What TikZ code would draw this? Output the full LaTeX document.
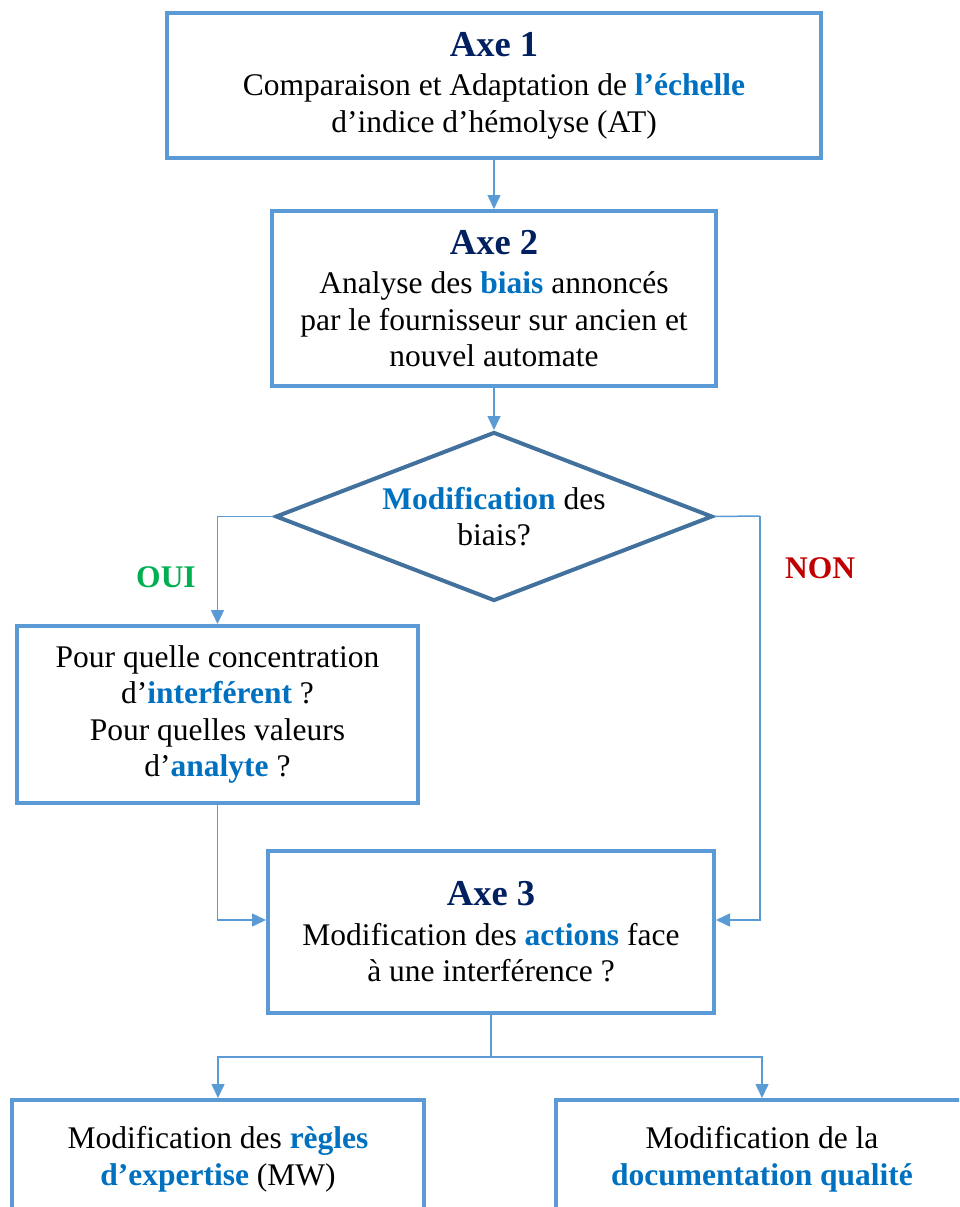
\documentclass[tikz,border=0pt]{standalone}
\usepackage{fontspec}
\setmainfont{Liberation Serif}
\usetikzlibrary{arrows.meta,shapes.geometric}
\definecolor{boxblue}{HTML}{5B9BD5}
\definecolor{diablue}{HTML}{41719C}
\definecolor{navyaxe}{HTML}{002060}
\definecolor{hblue}{HTML}{0070C0}
\definecolor{ouigreen}{HTML}{00B050}
\definecolor{nonred}{HTML}{C00000}
\newcommand\bluew[1]{\textbf{\color{hblue}#1}}
\newcommand\axetitle[1]{{\fontsize{36.5}{40}\selectfont\bfseries\color{navyaxe}#1}}
\begin{document}
\begin{tikzpicture}[x=1pt,y=-1pt,
  box/.style={draw=boxblue,line width=4pt,rectangle,inner sep=0pt,align=center,
    font=\fontsize{31.5}{36.5}\selectfont},
  dia/.style={draw=diablue,line width=4pt,diamond,shape aspect=2.586,inner sep=0pt,align=center,
    font=\fontsize{31.5}{36}\selectfont},
  conn/.style={draw=boxblue,line width=1.5pt,-{Triangle[length=14pt,width=13pt]}},
  plainline/.style={draw=boxblue,line width=1.5pt},
  lbl/.style={font=\fontsize{31.5}{36}\selectfont\bfseries}]
\useasboundingbox (0,0) rectangle (959,1207);
\fill[white] (0,0) rectangle (959,1207);
\clip (0,0) rectangle (959,1207);

\node[box,minimum width=654pt,minimum height=145pt] (b1) at (494,85.5)
  {\axetitle{Axe 1}\\[3pt]Comparaison et Adaptation de \bluew{l’échelle}\\d’indice d’hémolyse (AT)};
\node[box,minimum width=444pt,minimum height=175pt] (b2) at (494,298.5)
  {\axetitle{Axe 2}\\[3pt]Analyse des \bluew{biais} annoncés\\par le fournisseur sur ancien et\\nouvel automate};
\node[dia,minimum width=437pt,minimum height=169pt] (d) at (494,516.5)
  {\bluew{Modification} des\\biais?};
\node[box,minimum width=401pt,minimum height=177pt] (b3) at (217.5,714.5)
  {Pour quelle concentration\\d’\bluew{interférent} ?\\Pour quelles valeurs\\d’\bluew{analyte} ?};
\node[box,minimum width=446pt,minimum height=162pt] (b4) at (491,932)
  {\axetitle{Axe 3}\\[3pt]Modification des \bluew{actions} face\\à une interférence ?};
\node[box,minimum width=412pt,minimum height=118pt] (b5) at (218,1159)
  {Modification des \bluew{règles}\\\bluew{d’expertise} (MW)};
\node[box,minimum width=412pt,minimum height=118pt] (b6) at (762,1159)
  {Modification de la\\\bluew{documentation qualité}};

\node[lbl,text=ouigreen] (oui) at (166,577) {OUI};
\node[lbl,text=nonred] (non) at (820,568) {NON};

\coordinate (r) at (760,516);
\coordinate (j) at (0,920);
\coordinate (split) at (491,1057);

\draw[conn] (b1.south) -- (b2.north);
\draw[conn] (b2.south) -- (d.north);
\draw[conn] (d.west) -| (b3.north);
\draw[plainline] (d.east) -- (r);
\draw[conn] (r) |- (b4.east |- j);
\draw[conn] (b3.south) |- (b4.west |- j);
\draw[plainline] (b4.south) -- (split);
\draw[conn] (split) -| (b5.north);
\draw[conn] (split) -| (b6.north);
\end{tikzpicture}
\end{document}
